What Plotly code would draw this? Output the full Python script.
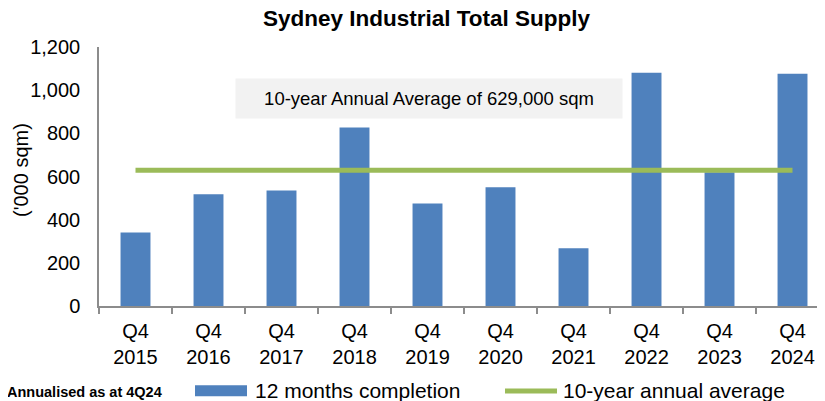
import plotly.graph_objects as go

categories = ["Q4<br>2015", "Q4<br>2016", "Q4<br>2017", "Q4<br>2018", "Q4<br>2019",
              "Q4<br>2020", "Q4<br>2021", "Q4<br>2022", "Q4<br>2023", "Q4<br>2024"]
completions = [340, 518, 535, 827, 475, 550, 267, 1081, 620, 1076]
average_value = 629
average_line = [average_value] * len(categories)
y_ticks = [0, 200, 400, 600, 800, 1000, 1200]
y_tick_labels = ["0", "200", "400", "600", "800", "1,000", "1,200"]

BAR = "#4F81BD"
LINE = "#9BBB59"
AXIS = "#8C8C8C"
FONT = "Liberation Sans, Arial, sans-serif"

# page body has an 8px margin; figure is sized so that it fills the window
OFF = 8
W, H = 825 - OFF, 401 - OFF
ML, MR = 99 - OFF, 0
MT = 47 - OFF
MB = H - (306 - OFF)
PW, PH = W - ML - MR, H - MT - MB


def px_x(p):
    return (p - OFF - ML) / PW


def px_y(p):
    return (H - MB - (p - OFF)) / PH


fig = go.Figure()
fig.add_trace(go.Bar(x=categories, y=completions, name="12 months completion",
                     marker=dict(color=BAR, line=dict(width=0)), width=0.41))
fig.add_trace(go.Scatter(x=categories, y=average_line, name="10-year annual average",
                         mode="lines", line=dict(color=LINE, width=5)))

fig.update_layout(
    width=W, height=H,
    margin=dict(l=ML, r=MR, t=MT, b=MB),
    paper_bgcolor="white", plot_bgcolor="white",
    showlegend=False,
    font=dict(family=FONT, color="#000000"),
    title=dict(text="<b>Sydney Industrial Total Supply</b>", x=(426.5 - OFF) / W, xanchor="center",
               y=1 - (18.5 - OFF) / H, yanchor="middle", font=dict(size=22.5, family=FONT, color="#000000")),
    xaxis=dict(type="category", range=[-0.5, 9.445], showline=True, linecolor=AXIS, linewidth=1.5,
               ticks="outside", tickson="boundaries", ticklen=6, tickcolor=AXIS, tickwidth=1.5,
               tickfont=dict(size=20, family=FONT), showgrid=False, zeroline=False,
               ticklabelstandoff=6),
    yaxis=dict(range=[0, 1200], tickvals=y_ticks, ticktext=y_tick_labels, showline=True,
               linecolor=AXIS, linewidth=1.5, ticks="", showgrid=False, zeroline=False,
               tickfont=dict(size=20, family=FONT), ticklabelstandoff=13),
)

annotations = [
    dict(text="10-year Annual Average of 629,000 sqm", xref="x", yref="y", x=4.02, y=960,
         showarrow=False, bgcolor="#F2F2F2", width=386, height=39, borderpad=0,
         font=dict(size=18.5, family=FONT, color="#000000")),
    dict(text="('000 sqm)", xref="paper", yref="paper", x=px_x(21), y=px_y(170),
         textangle=-90, showarrow=False, xanchor="center", yanchor="middle",
         font=dict(size=20, family=FONT, color="#000000")),
    dict(text="<b>Annualised as at 4Q24</b>", xref="paper", yref="paper", x=px_x(164), y=px_y(392),
         showarrow=False, xanchor="right", yanchor="middle",
         font=dict(size=14.5, family=FONT, color="#000000")),
    dict(text="12 months completion", xref="paper", yref="paper", x=px_x(253), y=px_y(390),
         showarrow=False, xanchor="left", yanchor="middle",
         font=dict(size=21, family=FONT, color="#000000")),
    dict(text="10-year annual average", xref="paper", yref="paper", x=px_x(561), y=px_y(390),
         showarrow=False, xanchor="left", yanchor="middle",
         font=dict(size=21, family=FONT, color="#000000")),
]
fig.update_layout(annotations=annotations)

fig.add_shape(type="rect", xref="paper", yref="paper", x0=px_x(195), x1=px_x(247),
              y0=px_y(396.3), y1=px_y(385.3), fillcolor=BAR, line=dict(width=0))
fig.add_shape(type="line", xref="paper", yref="paper", x0=px_x(505), x1=px_x(557),
              y0=px_y(391), y1=px_y(391), line=dict(color=LINE, width=5))

fig.write_html("out.html")
